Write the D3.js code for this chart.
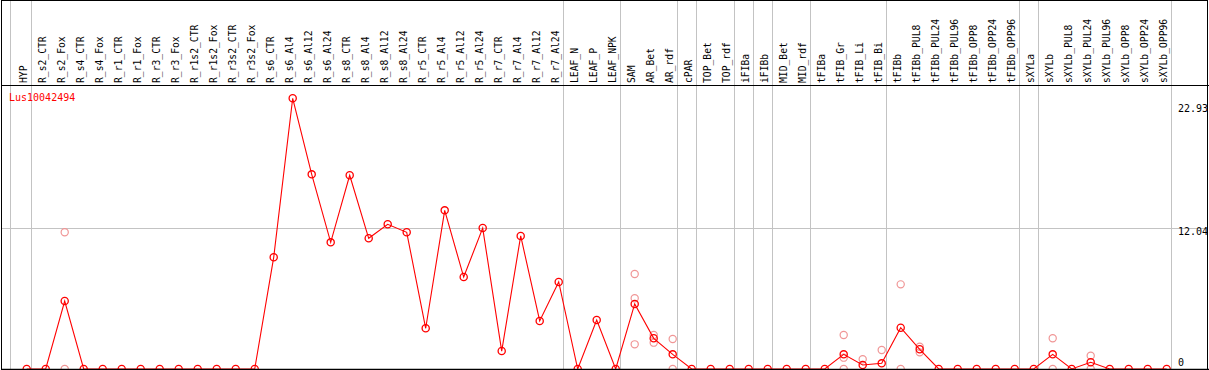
<!DOCTYPE html>
<html>
<head>
<meta charset="utf-8">
<script src="https://cdn.jsdelivr.net/npm/d3@7"></script>
<style>
  body { margin: 0; background: #fff; }
  svg { display: block; }
  text { font-family: "DejaVu Sans Mono", "Liberation Mono", monospace; }
</style>
</head>
<body>
<div id="my_dataviz"></div>
<script>
// sample labels (one column each)
const samples = ["HYP", "R_s2_CTR", "R_s2_Fox", "R_s4_CTR", "R_s4_Fox", "R_r1_CTR", "R_r1_Fox",
    "R_r3_CTR", "R_r3_Fox", "R_r1s2_CTR", "R_r1s2_Fox", "R_r3s2_CTR", "R_r3s2_Fox", "R_s6_CTR",
    "R_s6_Al4", "R_s6_Al12", "R_s6_Al24", "R_s8_CTR", "R_s8_Al4", "R_s8_Al12", "R_s8_Al24",
    "R_r5_CTR", "R_r5_Al4", "R_r5_Al12", "R_r5_Al24", "R_r7_CTR", "R_r7_Al4", "R_r7_Al12",
    "R_r7_Al24", "LEAF_N", "LEAF_P", "LEAF_NPK", "SAM", "AR_Bet", "AR_rdf", "cPAR", "TOP_Bet",
    "TOP_rdf", "iFIBa", "iFIBb", "MID_Bet", "MID_rdf", "tFIBa", "tFIB_Gr", "tFIB_Li", "tFIB_Bi",
    "tFIBb", "tFIBb_PUL8", "tFIBb_PUL24", "tFIBb_PUL96", "tFIBb_OPP8", "tFIBb_OPP24",
    "tFIBb_OPP96", "sXYLa", "sXYLb", "sXYLb_PUL8", "sXYLb_PUL24", "sXYLb_PUL96", "sXYLb_OPP8",
    "sXYLb_OPP24", "sXYLb_OPP96"];

// mean expression per sample
const meanValues = [0, 0, 5.76, 0, 0, 0, 0, 0, 0, 0, 0, 0, 0,
    9.46, 22.93, 16.49, 10.73, 16.41, 11.07, 12.26, 11.58, 3.45, 13.44, 7.79, 11.94, 1.52, 11.27, 4.07, 7.37,
    0, 4.15, 0, 5.51, 2.60, 1.24,
    0, 0, 0, 0, 0, 0, 0, 0,
    1.24, 0.34, 0.48, 3.50, 1.67,
    0, 0, 0, 0, 0, 0,
    1.24, 0, 0.57, 0, 0, 0, 0];

// individual replicates that show apart from the mean
const repSamples = ["R_s2_Fox", "R_s2_Fox", "SAM", "SAM", "SAM", "AR_Bet", "AR_Bet", "AR_rdf", "AR_rdf",
    "tFIB_Gr", "tFIB_Gr", "tFIB_Gr", "tFIB_Li", "tFIB_Bi", "tFIBb", "tFIBb", "tFIBb_PUL8", "tFIBb_PUL8",
    "sXYLb", "sXYLb", "sXYLb_PUL24", "sXYLb_PUL24"];
const repValues = [11.58, 0, 8.05, 5.99, 2.09, 2.88, 2.23, 2.54, 0,
    2.88, 0.96, 0, 0.82, 1.61, 7.17, 0, 1.89, 1.41,
    2.60, 0, 1.13, 0];

// group separators are drawn after these samples
const groupEnds = ["HYP", "R_r7_Al24", "LEAF_NPK", "AR_rdf", "cPAR", "TOP_rdf", "iFIBa", "iFIBb",
    "MID_rdf", "tFIB_Bi", "tFIBb_OPP96", "sXYLa", "sXYLb_OPP96"];

const geneName = "Lus10042494";
const yTicks = [0, 12.04, 22.93];

const W = 1209, H = 370;
const headerBottom = 85;

const svg = d3.select("#my_dataviz")
    .append("svg")
    .attr("width", W)
    .attr("height", H);

const x = d3.scalePoint()
    .domain(samples)
    .range([26.7, 1166.7]);

const y = d3.scaleLinear()
    .domain([0, 22.93])
    .range([369, 98.3]);

const grey = "#c3c3c3";

// horizontal grid line at the middle tick
svg.append("line")
    .attr("x1", 1).attr("x2", W - 1)
    .attr("y1", Math.round(y(12.04)) + 1.5).attr("y2", Math.round(y(12.04)) + 1.5)
    .attr("stroke", grey);

// vertical group separators
const sepX = [x(samples[0]) - 16.7].concat(groupEnds.map(d => x(d) + 4));
svg.selectAll(".sep")
    .data(sepX)
    .join("line")
    .attr("x1", d => Math.round(d) + 0.5)
    .attr("x2", d => Math.round(d) + 0.5)
    .attr("y1", 0).attr("y2", H)
    .attr("stroke", grey);

// frame and header line
svg.append("rect")
    .attr("x", 1.5).attr("y", 0.5)
    .attr("width", W - 2.5 - 0.5).attr("height", 369)
    .attr("fill", "none")
    .attr("stroke", "black");
svg.append("line")
    .attr("x1", 1).attr("x2", W)
    .attr("y1", headerBottom + 0.5).attr("y2", headerBottom + 0.5)
    .attr("stroke", "black");

// rotated sample labels
svg.selectAll(".lbl")
    .data(samples)
    .join("text")
    .attr("transform", d => `translate(${x(d)},83) rotate(-90)`)
    .attr("font-size", "9.7px")
    .attr("fill", "black")
    .text(d => d);

// right hand value labels
svg.selectAll(".ylbl")
    .data(yTicks)
    .join("text")
    .attr("x", 1178)
    .attr("y", d => d === 0 ? y(d) - 3 : (d === 22.93 ? y(d) + 14 : y(d) + 8.5))
    .attr("font-size", "10px")
    .attr("fill", "black")
    .text(d => d === 0 ? "0" : d.toFixed(2));

// gene name
svg.append("text")
    .attr("x", 9)
    .attr("y", 101)
    .attr("font-size", "10px")
    .attr("fill", "red")
    .text(geneName);

// replicate points (faint)
const reps = repSamples.map((s, i) => ({ s: s, v: repValues[i] }));
svg.selectAll(".rep")
    .data(reps)
    .join("circle")
    .attr("cx", d => x(d.s))
    .attr("cy", d => y(d.v))
    .attr("r", 3.6)
    .attr("fill", "none")
    .attr("stroke", "rgb(240,150,150)")
    .attr("stroke-width", 1.2);

// mean line
const means = samples.map((s, i) => ({ s: s, v: meanValues[i] }));
svg.append("path")
    .datum(means)
    .attr("fill", "none")
    .attr("stroke", "red")
    .attr("stroke-width", 1.1)
    .attr("d", d3.line()
        .x(d => x(d.s))
        .y(d => y(d.v)));

// mean markers
svg.selectAll(".pt")
    .data(means)
    .join("circle")
    .attr("cx", d => x(d.s))
    .attr("cy", d => y(d.v))
    .attr("r", 3.6)
    .attr("fill", "none")
    .attr("stroke", "red")
    .attr("stroke-width", 1.3);

// baseline on top
svg.append("line")
    .attr("x1", 1).attr("x2", W)
    .attr("y1", 369.5).attr("y2", 369.5)
    .attr("stroke", "black")
    .attr("stroke-width", 1.5);
</script>
</body>
</html>
